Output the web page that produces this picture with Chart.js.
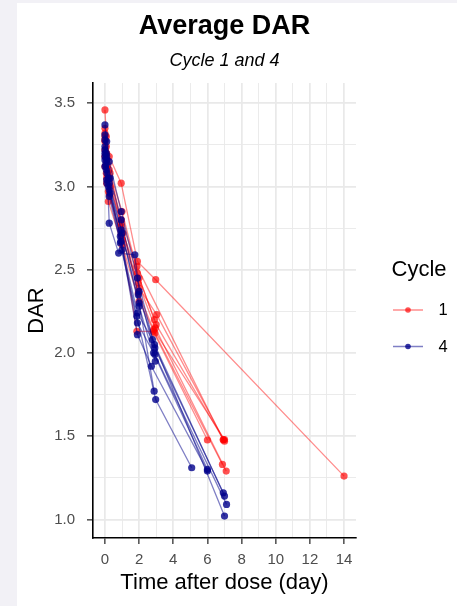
<!DOCTYPE html>
<html>
<head>
<meta charset="utf-8">
<script src="https://cdn.jsdelivr.net/npm/chart.js@4"></script>
<style>
  html, body { margin: 0; padding: 0; background: #f2f1f6; }
  #wrap { position: absolute; left: 17px; top: 3px; width: 440px; height: 603px; background: #fff; }
</style>
</head>
<body>
<div id="wrap"><canvas id="darChart"></canvas></div>
<script>
// time after dose (day) and DAR per subject, one row per subject
const cycle1Time = [
  [0, 0.08, 0.25, 0.95, 1.9, 2.97, 14],
  [0, 0.08, 0.25, 0.95, 1.87, 6.93],
  [0, 0.1, 0.25, 0.95, 2.0, 3.03, 7.0],
  [0, 0.08, 0.2, 0.95, 1.87, 2.83, 6.0],
  [0, 0.08, 0.2, 1.0, 2.0, 2.92, 6.88],
  [0, 0.1, 0.25, 1.0, 1.95, 2.95, 7.1],
  [0, 0.05, 0.17, 1.0, 2.0, 3.0, 6.93],
  [0, 0.1, 0.3, 1.05, 1.9, 2.9],
  [0, 0.08, 0.3, 0.95, 1.95, 2.85, 7.0]
];
const cycle1Dar = [
  [3.46, 3.30, 3.18, 3.02, 2.55, 2.44, 1.26],
  [3.35, 3.24, 3.10, 2.80, 2.52, 1.477],
  [3.30, 3.20, 3.05, 2.76, 2.39, 2.23, 1.47],
  [3.27, 3.12, 2.97, 2.71, 2.13, 2.13, 1.477],
  [3.22, 3.08, 2.91, 2.65, 2.31, 2.12, 1.33],
  [3.18, 3.02, 2.95, 2.68, 2.42, 2.15, 1.29],
  [3.28, 3.20, 3.13, 2.85, 2.45, 2.17, 1.48],
  [3.12, 3.05, 3.08, 2.72, 2.48, 2.20],
  [3.32, 3.15, 3.00, 2.78, 2.36, 2.14, 1.48]
];
const cycle4Time = [
  [0, 0.1, 0.25, 0.95, 1.9, 2.92, 6.93],
  [0, 0.08, 0.2, 0.93, 1.9, 2.78, 7.0],
  [0, 0.1, 0.25, 0.8, 1.75, 2.0, 2.92, 7.12],
  [0, 0.08, 0.2, 0.9, 1.9, 2.72, 6.0],
  [0, 0.1, 0.25, 1.0, 1.87, 2.97, 5.08],
  [0, 0.12, 0.25, 0.95, 2.0, 2.88],
  [0, 0.1, 0.3, 0.95, 1.95, 2.9, 7.0],
  [0, 0.05, 0.25, 1.0, 2.0, 2.95],
  [0, 0.12, 0.3, 0.9, 1.9, 2.85, 6.0]
];
const cycle4Dar = [
  [3.37, 3.27, 3.15, 2.85, 2.45, 2.03, 1.16],
  [3.31, 3.20, 3.05, 2.67, 2.24, 2.08, 1.02],
  [3.24, 3.16, 2.78, 2.60, 2.59, 2.37, 1.99, 1.09],
  [3.20, 3.10, 3.00, 2.70, 2.11, 1.92, 1.29],
  [3.16, 3.04, 2.94, 2.62, 2.22, 1.72, 1.31],
  [3.12, 3.02, 2.98, 2.74, 2.30, 1.77],
  [3.28, 3.18, 3.05, 2.80, 2.35, 2.05, 1.14],
  [3.22, 3.13, 3.02, 2.72, 2.28, 1.95],
  [3.18, 3.08, 2.96, 2.66, 2.18, 2.00, 1.30]
];

const xTicks = [0, 1, 2, 3, 4, 5, 6, 7, 8, 9, 10, 11, 12, 13, 14];
const yTicks = [1, 1.25, 1.5, 1.75, 2, 2.25, 2.5, 2.75, 3, 3.25, 3.5];
const cycleLabels = ['1', '4'];

const FONT = 'Liberation Sans, Arial, Helvetica, sans-serif';
const RED_LINE = 'rgba(255, 0, 0, 0.45)';
const RED_POINT = 'rgba(255, 0, 0, 0.68)';
const BLUE_LINE = 'rgba(0, 0, 139, 0.5)';
const BLUE_POINT = 'rgba(0, 0, 139, 0.8)';

function subjectSets(times, dars, lineColor, pointColor, cycle) {
  return times.map((t, i) => ({
    label: 'Cycle ' + cycle,
    data: t.map((x, j) => ({ x: x, y: dars[i][j] })),
    showLine: true,
    borderColor: lineColor,
    borderWidth: 1.3,
    pointRadius: 3.6,
    pointBorderWidth: 0,
    pointBackgroundColor: pointColor,
    tension: 0
  }));
}

const datasets = [].concat(
  subjectSets(cycle4Time, cycle4Dar, BLUE_LINE, BLUE_POINT, '4'),
  subjectSets(cycle1Time, cycle1Dar, RED_LINE, RED_POINT, '1')
);

// ggplot-style legend on the right
const cycleLegend = {
  id: 'cycleLegend',
  afterDraw(chart) {
    const ctx = chart.ctx;
    ctx.save();
    ctx.fillStyle = '#000';
    ctx.font = '22px ' + FONT;
    ctx.textBaseline = 'alphabetic';
    ctx.fillText('Cycle', 374.5, 273);
    const keys = [[RED_LINE, RED_POINT, 307], [BLUE_LINE, BLUE_POINT, 343.5]];
    keys.forEach((k, i) => {
      ctx.strokeStyle = k[0];
      ctx.lineWidth = 1.5;
      ctx.beginPath();
      ctx.moveTo(376, k[2]);
      ctx.lineTo(406, k[2]);
      ctx.stroke();
      ctx.fillStyle = k[1];
      ctx.beginPath();
      ctx.arc(391, k[2], 2.8, 0, Math.PI * 2);
      ctx.fill();
      ctx.fillStyle = '#000';
      ctx.font = '16.5px ' + FONT;
      ctx.textBaseline = 'middle';
      ctx.fillText(cycleLabels[i], 421.5, k[2] + 0.5);
    });
    ctx.restore();
  }
};

new Chart(document.getElementById('darChart'), {
  type: 'scatter',
  data: { datasets: datasets },
  options: {
    responsive: true,
    maintainAspectRatio: false,
    animation: false,
    layout: { padding: { left: 0, right: 101, top: 0, bottom: 0 } },
    plugins: {
      legend: { display: false },
      tooltip: { enabled: false },
      title: {
        display: true,
        fullSize: false,
        text: 'Average DAR',
        color: '#000',
        font: { family: FONT, size: 27, weight: 'bold' },
        padding: { top: 7, bottom: 0 }
      },
      subtitle: {
        display: true,
        fullSize: false,
        text: 'Cycle 1 and 4',
        color: '#000',
        font: { family: FONT, size: 18, style: 'italic' },
        padding: { top: 7.3, bottom: 11.7 }
      }
    },
    scales: {
      x: {
        type: 'linear',
        min: -0.7,
        max: 14.7,
        afterBuildTicks: (axis) => { axis.ticks = xTicks.map(v => ({ value: v })); },
        afterFit: (axis) => { axis.height = 68; },
        ticks: {
          color: '#4d4d4d',
          font: { family: FONT, size: 15 },
          padding: 7,
          maxRotation: 0,
          autoSkip: false,
          callback: (v) => (v % 2 === 0 ? String(v) : '')
        },
        grid: {
          color: '#e9e9e9',
          lineWidth: (c) => (c.tick && c.tick.value % 2 === 0 ? 1.7 : 0.9),
          tickColor: (c) => (c.tick && c.tick.value % 2 === 0 ? '#333' : 'rgba(0,0,0,0)'),
          tickLength: 6,
          tickWidth: 1.3
        },
        border: { display: true, color: '#000', width: 1.6 },
        title: {
          display: true,
          text: 'Time after dose (day)',
          color: '#000',
          font: { family: FONT, size: 22 },
          padding: { top: 0, bottom: 9.8 }
        }
      },
      y: {
        type: 'linear',
        min: 0.888,
        max: 3.622,
        afterBuildTicks: (axis) => { axis.ticks = yTicks.map(v => ({ value: v })); },
        afterFit: (axis) => { axis.width = 76; },
        ticks: {
          color: '#4d4d4d',
          font: { family: FONT, size: 15 },
          padding: 12,
          autoSkip: false,
          callback: (v) => (Math.abs(v * 2 - Math.round(v * 2)) < 1e-6 ? v.toFixed(1) : '')
        },
        grid: {
          color: '#e9e9e9',
          lineWidth: (c) => (c.tick && Math.abs(c.tick.value * 2 - Math.round(c.tick.value * 2)) < 1e-6 ? 1.7 : 0.9),
          tickColor: (c) => (c.tick && Math.abs(c.tick.value * 2 - Math.round(c.tick.value * 2)) < 1e-6 ? '#333' : 'rgba(0,0,0,0)'),
          tickLength: 6,
          tickWidth: 1.3
        },
        border: { display: true, color: '#000', width: 1.6 },
        title: {
          display: true,
          text: 'DAR',
          color: '#000',
          font: { family: FONT, size: 22 },
          padding: { top: 6.8, bottom: 0 }
        }
      }
    }
  },
  plugins: [cycleLegend]
});
</script>
</body>
</html>
